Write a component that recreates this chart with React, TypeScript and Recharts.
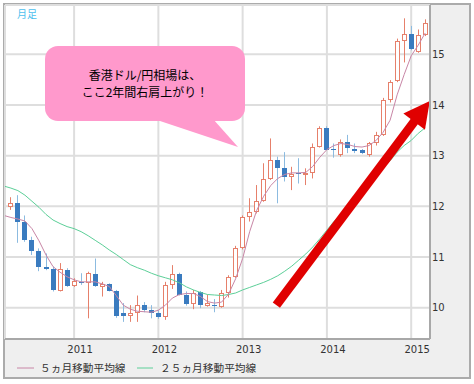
import React from 'react';
import { ComposedChart, Bar, Line, XAxis, YAxis, CartesianGrid, ReferenceLine } from 'recharts';

// monthly HKD/JPY, Mar 2010 .. Mar 2015 (first month only carries the averages)
const MONTHS = [
  '2010-03', '2010-04', '2010-05', '2010-06', '2010-07', '2010-08', '2010-09', '2010-10', '2010-11', '2010-12',
  '2011-01', '2011-02', '2011-03', '2011-04', '2011-05', '2011-06', '2011-07', '2011-08', '2011-09', '2011-10', '2011-11', '2011-12',
  '2012-01', '2012-02', '2012-03', '2012-04', '2012-05', '2012-06', '2012-07', '2012-08', '2012-09', '2012-10', '2012-11', '2012-12',
  '2013-01', '2013-02', '2013-03', '2013-04', '2013-05', '2013-06', '2013-07', '2013-08', '2013-09', '2013-10', '2013-11', '2013-12',
  '2014-01', '2014-02', '2014-03', '2014-04', '2014-05', '2014-06', '2014-07', '2014-08', '2014-09', '2014-10', '2014-11', '2014-12',
  '2015-01', '2015-02', '2015-03',
];

const OPEN = [
  null, 11.99, 12.07, 11.70, 11.33, 11.11, 10.80, 10.76, 10.33, 10.74,
  10.43, 10.51, 10.49, 10.66, 10.41, 10.47, 10.33, 9.90, 9.84, 9.89, 10.05, 9.95,
  9.89, 9.82, 10.45, 10.66, 10.26, 10.07, 10.30, 10.04, 10.06, 10.02, 10.28, 10.61,
  11.17, 11.79, 11.89, 12.11, 12.53, 12.91, 12.76, 12.57, 12.66, 12.63, 12.65, 13.18,
  13.54, 13.13, 13.01, 13.27, 13.14, 13.11, 13.01, 13.24, 13.41, 14.10, 14.47, 15.27,
  15.40, 15.05, 15.38,
];
const HIGH = [
  null, 12.18, 12.22, 11.82, 11.40, 11.17, 11.07, 10.81, 10.88, 10.78,
  10.58, 10.68, 10.71, 10.97, 10.51, 10.48, 10.35, 10.09, 10.05, 10.24, 10.11, 10.05,
  9.95, 10.51, 10.84, 10.69, 10.32, 10.35, 10.33, 10.26, 10.17, 10.35, 10.64, 11.22,
  11.82, 12.16, 12.42, 12.85, 13.34, 12.98, 13.07, 12.78, 12.95, 12.75, 13.24, 13.58,
  13.58, 13.24, 13.32, 13.41, 13.24, 13.13, 13.27, 13.47, 14.14, 14.49, 15.31, 15.71,
  15.56, 15.49, 15.69,
];
const LOW = [
  null, 11.93, 11.28, 11.30, 11.04, 10.72, 10.74, 10.32, 10.32, 10.41,
  10.41, 10.45, 9.79, 10.41, 10.22, 10.32, 9.80, 9.72, 9.72, 9.72, 9.91, 9.79,
  9.78, 9.76, 10.37, 10.24, 10.04, 9.97, 9.99, 10.02, 9.91, 10.00, 10.20, 10.59,
  11.15, 11.70, 11.86, 12.09, 12.52, 12.06, 12.49, 12.32, 12.45, 12.42, 12.55, 13.16,
  13.11, 12.96, 12.98, 13.05, 13.05, 13.03, 12.98, 13.20, 13.39, 14.05, 14.45, 14.84,
  15.08, 15.03, 15.36,
];
const CLOSE = [
  null, 12.07, 11.70, 11.33, 11.12, 10.80, 10.76, 10.35, 10.76, 10.43,
  10.53, 10.49, 10.68, 10.43, 10.47, 10.33, 9.84, 9.84, 9.89, 10.05, 9.95, 9.89,
  9.82, 10.45, 10.66, 10.26, 10.07, 10.28, 10.05, 10.10, 10.04, 10.28, 10.61, 11.17,
  11.79, 11.89, 12.11, 12.53, 12.91, 12.75, 12.58, 12.63, 12.63, 12.66, 13.18, 13.54,
  13.12, 13.11, 13.27, 13.16, 13.10, 13.05, 13.24, 13.41, 14.10, 14.46, 15.27, 15.40,
  15.10, 15.38, 15.61,
];

const MA5 = [
  11.82, 11.78, 11.75, 11.71, 11.56, 11.32, 11.04, 10.81, 10.70, 10.61,
  10.55, 10.51, 10.51, 10.51, 10.47, 10.42, 10.24, 10.05, 9.97, 9.93, 9.92, 9.91,
  9.95, 10.05, 10.19, 10.26, 10.28, 10.28, 10.22, 10.12, 10.09, 10.11, 10.27, 10.57,
  10.97, 11.50, 11.92, 12.20, 12.41, 12.55, 12.63, 12.66, 12.66, 12.67, 12.79, 12.97,
  13.12, 13.20, 13.24, 13.22, 13.18, 13.17, 13.20, 13.30, 13.46, 13.70, 14.20, 14.60,
  14.97, 15.18, 15.42,
];
const MA25 = [
  12.40, 12.36, 12.31, 12.22, 12.10, 11.98, 11.84, 11.73, 11.66, 11.60,
  11.56, 11.50, 11.42, 11.33, 11.24, 11.14, 11.05, 10.95, 10.85, 10.79, 10.74, 10.68,
  10.63, 10.59, 10.55, 10.49, 10.41, 10.35, 10.30, 10.26, 10.25, 10.24, 10.26, 10.29,
  10.35, 10.40, 10.45, 10.50, 10.56, 10.63, 10.72, 10.82, 10.94, 11.06, 11.20, 11.36,
  11.53, 11.70, 11.84, 11.98, 12.11, 12.27, 12.43, 12.62, 12.76, 12.90, 13.07, 13.20,
  13.30, 13.44, 13.55,
];

const YEAR_TICKS = [10, 22, 34, 46, 58];
const YEAR_LABELS = ['2011', '2012', '2013', '2014', '2015'];
const PRICE_TICKS = [10, 11, 12, 13, 14, 15];

const ARROW_FROM = { k: 38.8, v: 10.05 };
const ARROW_TO = { k: 60.65, v: 14.08 };

const data = MONTHS.map((month, k) => ({
  k,
  month,
  open: OPEN[k],
  high: HIGH[k],
  low: LOW[k],
  close: CLOSE[k],
  ma5: MA5[k],
  ma25: MA25[k],
}));

const UP = '#e6806b';
const DOWN = '#3a7bbf';
const DOWN_WICK = '#8cbbe0';
const MA5_COLOR = '#c886a6';
const MA25_COLOR = '#5ccf98';
const CJK = '"Noto Sans CJK JP", sans-serif';

function Candle(props: any) {
  const { x, y, width, height, payload } = props;
  if (!payload || payload.open == null || !isFinite(y) || !isFinite(height)) return <g />;
  const { open, close, high, low } = payload;
  const top = Math.min(y, y + height);
  const h = Math.abs(height);
  const py = (v: number) => top + ((high - v) / (high - low)) * h;
  const n = Math.round(x + width / 2 - 0.5);
  const cx = n + 0.5;
  const up = close >= open;
  const bTop = Math.round(py(Math.max(open, close)));
  const bBot = Math.max(Math.round(py(Math.min(open, close))), bTop + 1);
  if (up) {
    return (
      <g>
        <line x1={cx} x2={cx} y1={py(high)} y2={py(low)} stroke={UP} strokeWidth={1} />
        <rect x={n - 1.5} y={bTop + 0.5} width={4} height={Math.max(bBot - bTop - 1, 1)} fill="#fff" stroke={UP} strokeWidth={1} />
      </g>
    );
  }
  return (
    <g>
      <line x1={cx} x2={cx} y1={py(high)} y2={py(low)} stroke={DOWN_WICK} strokeWidth={1} />
      <rect x={n - 2} y={bTop} width={5} height={bBot - bTop} fill={DOWN} />
    </g>
  );
}

function Arrow(props: any) {
  const { x1, y1, x2, y2 } = props;
  const dx = x2 - x1;
  const dy = y2 - y1;
  const len = Math.hypot(dx, dy);
  const ux = dx / len;
  const uy = dy / len;
  const head = 26;
  const half = 13.5;
  const bx = x2 - ux * head;
  const by = y2 - uy * head;
  const nx = -uy;
  const ny = ux;
  return (
    <g>
      <line x1={x1} y1={y1} x2={bx + ux * 2} y2={by + uy * 2} stroke="#e00000" strokeWidth={9} />
      <polygon points={`${x2},${y2} ${bx + nx * half},${by + ny * half} ${bx - nx * half},${by - ny * half}`} fill="#e00000" />
    </g>
  );
}

const YearTick = ({ x, y, payload }: any) => {
  const idx = YEAR_TICKS.indexOf(payload.value);
  return (
    <text x={x + 6} y={y} dy="0.71em" textAnchor="middle" fontSize={10} fontFamily="DejaVu Sans" fill="#333">
      {YEAR_LABELS[idx]}
    </text>
  );
};

const PriceTick = ({ x, y, payload }: any) => (
  <text x={x} y={y} dy="0.36em" textAnchor="start" fontSize={10} fontFamily="DejaVu Sans" fill="#333">
    {payload.value}
  </text>
);

export default function App() {
  return (
    <div style={{ position: 'absolute', left: 0, top: 0, width: 474, height: 384, background: '#fff' }}>
      <div style={{ position: 'absolute', left: 3, top: 3, width: 464, height: 372, border: '2px solid #ababab', background: '#efefef' }} />
      <div style={{ position: 'absolute', left: 0, top: 0 }}>
        <ComposedChart width={474} height={384} data={data} margin={{ top: 5, right: 5, bottom: 25, left: 5 }}>
          <CartesianGrid fill="#fff" fillOpacity={1} stroke="#dedede" strokeWidth={2} />
          <XAxis
            dataKey="k"
            type="number"
            domain={[0.16, 60.68]}
            allowDataOverflow
            ticks={YEAR_TICKS}
            interval={0}
            height={20}
            tickLine={false}
            tickSize={0}
            tickMargin={7}
            axisLine={{ stroke: '#a8a8a8', strokeWidth: 2 }}
            tick={<YearTick />}
          />
          <YAxis
            orientation="right"
            type="number"
            domain={[9.382, 15.973]}
            allowDataOverflow
            ticks={PRICE_TICKS}
            interval={0}
            width={39}
            tickLine={false}
            tickSize={0}
            tickMargin={2}
            axisLine={{ stroke: '#a8a8a8', strokeWidth: 2 }}
            tick={<PriceTick />}
          />
          <Bar
            dataKey={(d: any) => (d.low == null ? null : [d.low, d.high])}
            barSize={5}
            shape={(p: any) => <Candle {...p} />}
            isAnimationActive={false}
          />
          <Line type="linear" dataKey="ma25" stroke={MA25_COLOR} strokeWidth={1} dot={false} activeDot={false} isAnimationActive={false} />
          <Line type="linear" dataKey="ma5" stroke={MA5_COLOR} strokeWidth={1} dot={false} activeDot={false} isAnimationActive={false} />
          <ReferenceLine
            segment={[{ x: ARROW_FROM.k, y: ARROW_FROM.v }, { x: ARROW_TO.k, y: ARROW_TO.v }]}
            ifOverflow="visible"
            shape={(p: any) => <Arrow {...p} />}
          />
        </ComposedChart>
      </div>
      <svg width={474} height={384} style={{ position: 'absolute', left: 0, top: 0 }}>
        <text x={17} y={14} dy="0.36em" fontSize={10} fontFamily={CJK} fill="#4ec0ee">月足</text>
        <rect x={45} y={46} width={200} height={75} rx={13} fill="#ff99cc" />
        <polygon points="154,119 213,119 238,147" fill="#ff99cc" />
        <text x={145} y={76} dy="0.36em" textAnchor="middle" fontSize={12} fontFamily={CJK} fill="#000">香港ドル/円相場は、</text>
        <text x={145} y={92.5} dy="0.36em" textAnchor="middle" fontSize={12} fontFamily={CJK} fill="#000">ここ2年間右肩上がり！</text>
        <line x1={17} x2={34} y1={368} y2={368} stroke={MA5_COLOR} strokeWidth={1} />
        <text x={40} y={368} dy="0.36em" fontSize={10.7} fontFamily={CJK} fill="#333">５ヵ月移動平均線</text>
        <line x1={137} x2={153} y1={368} y2={368} stroke={MA25_COLOR} strokeWidth={1} />
        <text x={160} y={368} dy="0.36em" fontSize={10.7} fontFamily={CJK} fill="#333">２５ヵ月移動平均線</text>
      </svg>
    </div>
  );
}
